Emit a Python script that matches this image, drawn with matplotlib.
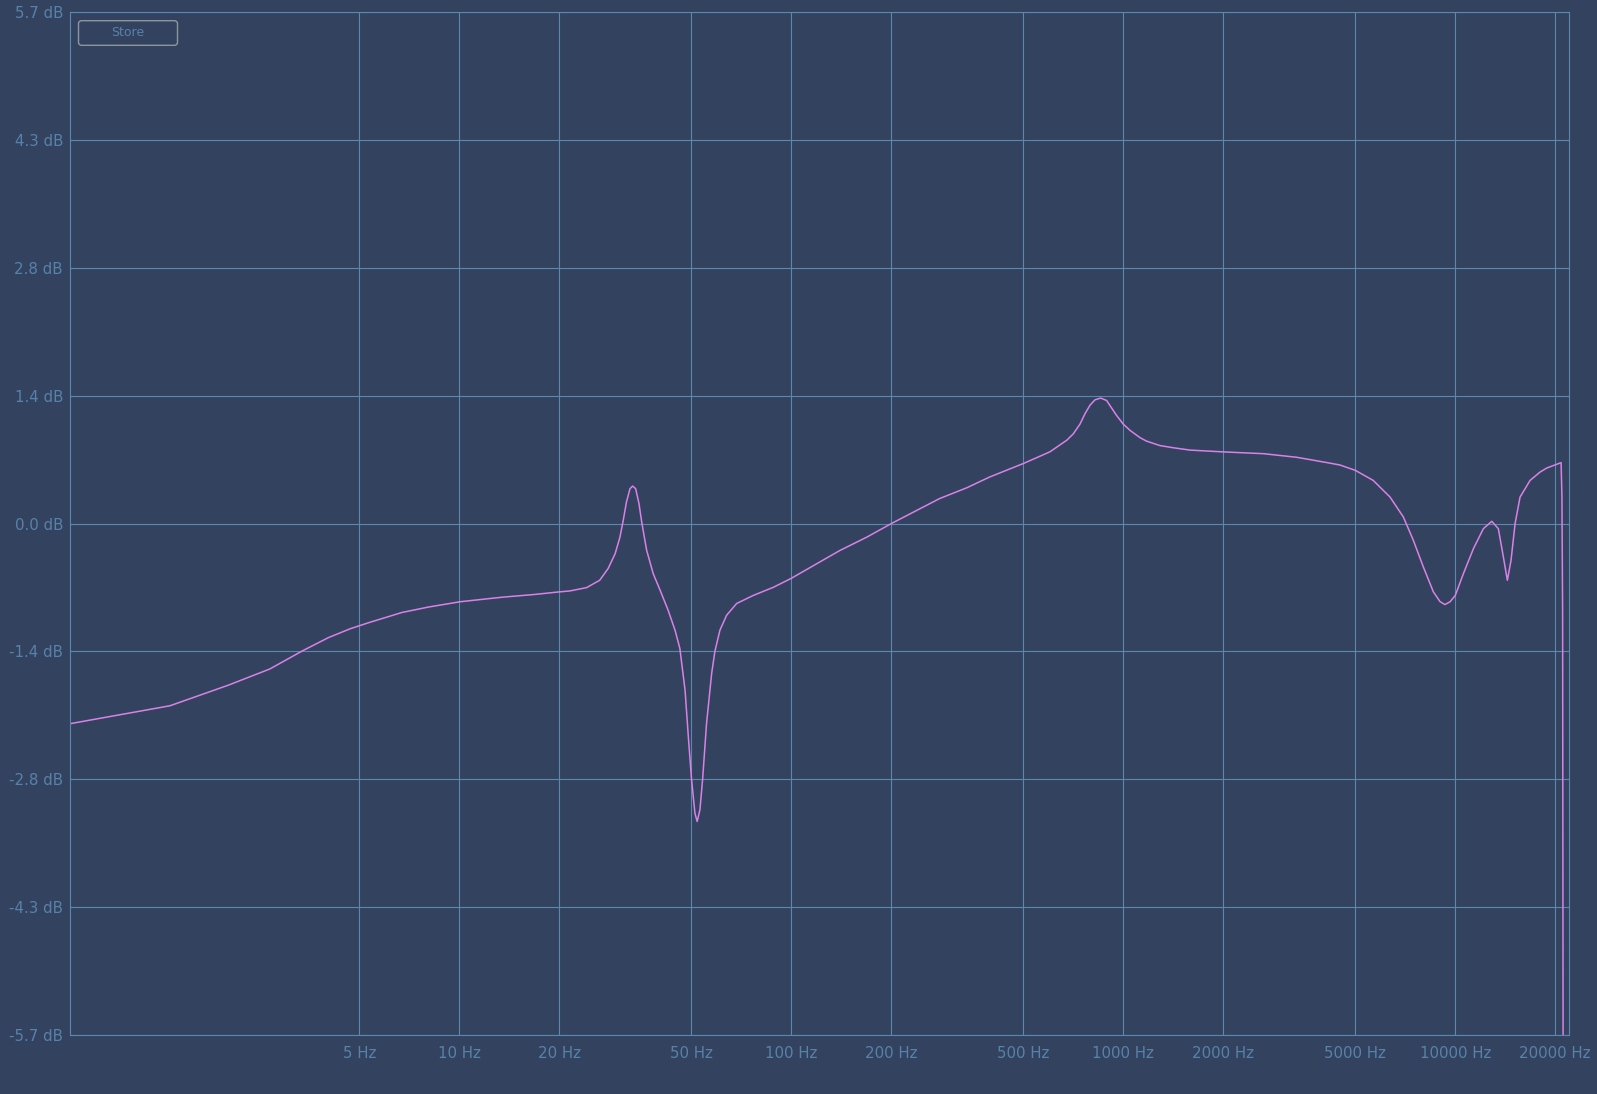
import numpy as np
import matplotlib
matplotlib.use("Agg")
import matplotlib.pyplot as plt
from matplotlib.patches import FancyBboxPatch
from matplotlib.transforms import IdentityTransform

# frequency response
freqs_hz = [0.673, 1.346, 2.019, 2.69, 3.365, 4.04, 4.71, 5.38, 6.73, 8.07,
            10.09, 13.46, 16.8, 20.1, 21.56, 24.2, 26.5, 28.1, 29.5, 30.5,
            31.2, 31.9, 32.7, 33.3, 34.0, 34.8, 35.5, 36.7, 38.4, 40.3,
            42.6, 44.7, 46.2, 47.9, 49.0, 50.1, 51.3, 52.1, 53.1, 54.1,
            55.6, 57.6, 58.9, 61.0, 63.9, 68.5, 76.9, 88.3, 100, 140,
            169, 200, 280, 338, 396, 500, 601, 676, 707, 741, 767, 794,
            822, 855, 891, 955, 1000, 1048, 1122, 1175, 1291, 1415,
            1589, 2000, 2642, 3327, 4188, 4500, 5000, 5660, 6362, 6977,
            7477, 8014, 8590, 9000, 9311, 9650, 10000, 10580, 11340, 12150,
            12880, 13480, 13960, 14350, 14720, 15140, 15670, 16800, 18000, 18860,
            20830, 20950, 21050, 21170]
gain_db = [-2.23, -2.03, -1.80, -1.62, -1.42, -1.27, -1.17, -1.10, -0.99, -0.93,
           -0.87, -0.82, -0.79, -0.76, -0.75, -0.713, -0.631, -0.50, -0.334, -0.149,
           0.037, 0.24, 0.39, 0.419, 0.39, 0.223, 0.007, -0.297, -0.557, -0.743,
           -0.966, -1.19, -1.39, -1.856, -2.376, -2.85, -3.23, -3.32, -3.19, -2.85,
           -2.227, -1.67, -1.425, -1.188, -1.021, -0.89, -0.80, -0.71, -0.61, -0.30,
           -0.15, 0.0, 0.28, 0.40, 0.52, 0.67, 0.80, 0.93, 1.00, 1.11, 1.225, 1.32,
           1.38, 1.40, 1.373, 1.206, 1.11, 1.04, 0.96, 0.92, 0.87, 0.846,
           0.82, 0.80, 0.78, 0.74, 0.675, 0.653, 0.594, 0.482, 0.296, 0.074,
           -0.186, -0.483, -0.76, -0.87, -0.902, -0.87, -0.80, -0.557, -0.279, -0.056,
           0.026, -0.056, -0.372, -0.631, -0.409, 0.0, 0.296, 0.482, 0.575, 0.62,
           0.68, 0.3, -1.0, -9.0]

x_ticks = [5, 10, 20, 50, 100, 200, 500, 1000, 2000, 5000, 10000, 20000]
x_labels = ["5 Hz", "10 Hz", "20 Hz", "50 Hz", "100 Hz", "200 Hz", "500 Hz",
            "1000 Hz", "2000 Hz", "5000 Hz", "10000 Hz", "20000 Hz"]
y_labels = ["-5.7 dB", "-4.3 dB", "-2.8 dB", "-1.4 dB", "0.0 dB",
            "1.4 dB", "2.8 dB", "4.3 dB", "5.7 dB"]

bg = "#33435f"
grid_col = "#5a88ae"
text_col = "#5782aa"
curve_col = "#d982e6"

fig = plt.figure(figsize=(15.97, 10.94), dpi=100, facecolor=bg)
ax = fig.add_axes([70 / 1597, 1 - 1035 / 1094, 1499.3 / 1597, 1022.7 / 1094])
ax.set_facecolor(bg)

ax.plot(freqs_hz, gain_db, color=curve_col, lw=1.1, solid_joinstyle="round")

ax.set_xscale("log")
ax.set_xlim(44100 / 65536, 22050)
ax.set_ylim(-5.7, 5.7)

ax.set_xticks(x_ticks)
ax.set_xticklabels(x_labels)
ax.xaxis.set_minor_locator(plt.NullLocator())
ax.set_yticks(np.linspace(-5.7, 5.7, 9))
ax.set_yticklabels(y_labels)

ax.tick_params(axis="both", length=0, colors=text_col, labelsize=10.8)
ax.tick_params(axis="x", pad=8)
ax.tick_params(axis="y", pad=5)
ax.grid(True, color=grid_col, lw=0.8)
ax.set_axisbelow(True)
for s in ax.spines.values():
    s.set_color(grid_col)
    s.set_linewidth(0.8)

# the little "Store" button in the corner
btn = FancyBboxPatch((78.5, 1094 - 45.3), 99, 24.6,
                     boxstyle="round,pad=0,rounding_size=3",
                     transform=IdentityTransform(), facecolor="none",
                     edgecolor="#8d959e", lw=1.0)
fig.patches.append(btn)
fig.text(128 / 1597, 1 - 33 / 1094, "Store", color=text_col, fontsize=9,
         ha="center", va="center")

fig.savefig("out.png", dpi=100, facecolor=bg)
